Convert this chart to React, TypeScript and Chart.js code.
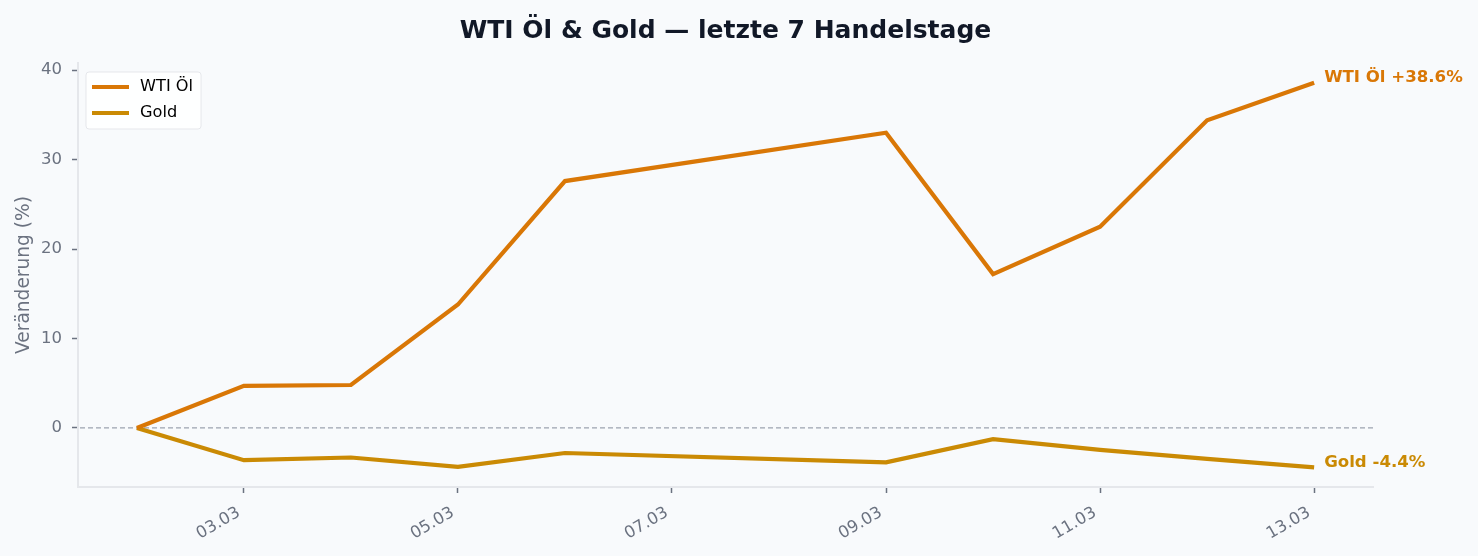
import React, { useEffect, useRef } from "react";
import { Chart, registerables } from "chart.js";

Chart.register(...registerables);

// trading days in March (07.03 / 08.03 = weekend, no data)
const dayNumbers = [2, 3, 4, 5, 6, 9, 10, 11, 12, 13];
const tickDays = [3, 5, 7, 9, 11, 13];
const yTicks = [0, 10, 20, 30, 40];

const oilValues = [0, 4.7, 4.8, 13.8, 27.6, 33.0, 17.2, 22.5, 34.4, 38.6];
const goldValues = [0, -3.6, -3.3, -4.35, -2.8, -3.85, -1.25, -2.45, -3.45, -4.4];

const seriesNames = ["WTI Öl", "Gold"];
const seriesColors = ["#d97706", "#ca8a04"];

const FONT = "'DejaVu Sans', sans-serif";

const dayLabel = (d: number) => String(d).padStart(2, "0") + ".03";

const overlayPlugin = {
  id: "overlay",
  beforeDatasetsDraw(chart: any) {
    const { ctx, chartArea, scales } = chart;
    const y0 = scales.y.getPixelForValue(0);
    ctx.save();
    ctx.strokeStyle = "#9ca3af";
    ctx.lineWidth = 1.2;
    ctx.setLineDash([5, 3]);
    ctx.beginPath();
    ctx.moveTo(chartArea.left + 2, y0);
    ctx.lineTo(chartArea.right, y0);
    ctx.stroke();
    ctx.restore();
  },
  afterDatasetsDraw(chart: any) {
    const { ctx, chartArea } = chart;
    ctx.save();

    // end labels
    ctx.font = "bold 16.6px " + FONT;
    ctx.textAlign = "left";
    ctx.textBaseline = "middle";
    chart.data.datasets.forEach((ds: any, i: number) => {
      const meta = chart.getDatasetMeta(i);
      const pt = meta.data[meta.data.length - 1];
      const v = ds.data[ds.data.length - 1].y;
      const txt = `${ds.label} ${v >= 0 ? "+" : ""}${v.toFixed(1)}%`;
      ctx.fillStyle = seriesColors[i];
      ctx.fillText(txt, pt.x + 10, pt.y - 5);
    });

    // legend box (upper left, inside the plot)
    ctx.font = "16.2px " + FONT;
    const textW = Math.max(...seriesNames.map((n) => ctx.measureText(n).width));
    const bx = chartArea.left + 8;
    const by = chartArea.top + 9;
    const bw = 54 + textW + 8;
    const bh = 57;
    ctx.fillStyle = "rgba(255,255,255,0.85)";
    ctx.strokeStyle = "#e5e7eb";
    ctx.lineWidth = 1;
    ctx.beginPath();
    ctx.roundRect(bx, by, bw, bh, 3);
    ctx.fill();
    ctx.stroke();
    seriesNames.forEach((n, i) => {
      const ry = by + 15 + i * 26;
      ctx.strokeStyle = seriesColors[i];
      ctx.lineWidth = 4;
      ctx.beginPath();
      ctx.moveTo(bx + 6, ry);
      ctx.lineTo(bx + 43, ry);
      ctx.stroke();
      ctx.fillStyle = "#000";
      ctx.fillText(n, bx + 54, ry);
    });
    ctx.restore();
  },
};

export default function App() {
  const chartRef = useRef<HTMLCanvasElement | null>(null);
  const chartInstanceRef = useRef<Chart<"line"> | null>(null);

  useEffect(() => {
    if (!chartRef.current) return;
    const ctx = chartRef.current.getContext("2d");
    if (!ctx) return;

    if (chartInstanceRef.current) {
      chartInstanceRef.current.destroy();
    }

    const makeData = (vals: number[]) => dayNumbers.map((d, i) => ({ x: d, y: vals[i] }));

    chartInstanceRef.current = new Chart(ctx, {
      type: "line",
      data: {
        datasets: [
          {
            label: seriesNames[0],
            data: makeData(oilValues),
            borderColor: seriesColors[0],
            backgroundColor: seriesColors[0],
            borderWidth: 4.2,
            pointRadius: 0,
            tension: 0,
          },
          {
            label: seriesNames[1],
            data: makeData(goldValues),
            borderColor: seriesColors[1],
            backgroundColor: seriesColors[1],
            borderWidth: 4.2,
            pointRadius: 0,
            tension: 0,
          },
        ],
      },
      options: {
        animation: false,
        responsive: true,
        maintainAspectRatio: false,
        layout: {
          padding: { left: 0, right: 105, top: 0, bottom: 0 },
        },
        plugins: {
          legend: { display: false },
          tooltip: { enabled: false },
          title: {
            display: true,
            fullSize: false,
            text: "WTI Öl & Gold — letzte 7 Handelstage",
            color: "#111827",
            font: { family: FONT, size: 25, weight: "bold" },
            padding: { top: 16, bottom: 17 },
          },
        },
        scales: {
          x: {
            type: "linear",
            min: 1.45,
            max: 13.55,
            afterBuildTicks: (scale: any) => {
              scale.ticks = tickDays.map((d) => ({ value: d }));
            },
            afterFit: (scale: any) => {
              scale.height = 69;
              scale.paddingLeft = 0;
              scale.paddingRight = 0;
            },
            ticks: {
              color: "#6b7280",
              font: { family: FONT, size: 16.5 },
              minRotation: 30,
              maxRotation: 30,
              padding: 10,
              labelOffset: -5,
              callback: (v: any) => dayLabel(Number(v)),
            },
            grid: {
              drawOnChartArea: false,
              drawTicks: true,
              tickLength: 6,
              tickColor: "#6b7280",
              tickWidth: 1.5,
            },
            border: { display: true, color: "#e5e7eb", width: 2 },
          },
          y: {
            type: "linear",
            min: -6.6,
            max: 40.8,
            afterBuildTicks: (scale: any) => {
              scale.ticks = yTicks.map((v) => ({ value: v }));
            },
            afterFit: (scale: any) => {
              scale.width = 78;
            },
            ticks: {
              color: "#6b7280",
              font: { family: FONT, size: 16.5 },
              padding: 10,
            },
            grid: {
              drawOnChartArea: false,
              drawTicks: true,
              tickLength: 6,
              tickColor: "#6b7280",
              tickWidth: 1.5,
            },
            border: { display: true, color: "#e5e7eb", width: 2 },
            title: {
              display: true,
              text: "Veränderung (%)",
              color: "#6b7280",
              font: { family: FONT, size: 18.6 },
              padding: { top: 13.5, bottom: 4 },
            },
          },
        },
      },
      plugins: [overlayPlugin],
    });

    return () => {
      if (chartInstanceRef.current) {
        chartInstanceRef.current.destroy();
      }
    };
  }, []);

  return (
    <div
      style={{
        position: "absolute",
        left: 0,
        top: 0,
        width: "1478px",
        height: "556px",
        background: "#f8fafc",
      }}
    >
      <canvas ref={chartRef} />
    </div>
  );
}
